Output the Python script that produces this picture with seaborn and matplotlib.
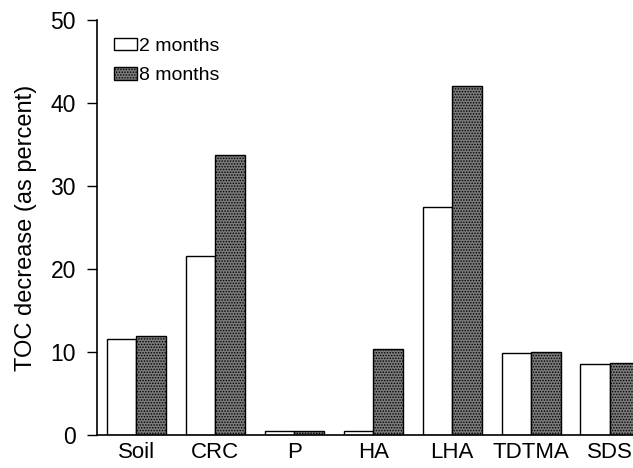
import matplotlib
matplotlib.use("Agg")
import matplotlib.pyplot as plt
import seaborn as sns
import pandas as pd

categories = ["Soil", "CRC", "P", "HA", "LHA", "TDTMA", "SDS"]
months2 = [11.6, 21.6, 0.5, 0.5, 27.5, 9.9, 8.5]
months8 = [11.9, 33.7, 0.5, 10.4, 42.1, 10.0, 8.7]
series = ["2 months", "8 months"]

df = pd.DataFrame({
    "cat": categories * 2,
    "val": months2 + months8,
    "series": [series[0]] * len(categories) + [series[1]] * len(categories),
})

sns.set_theme(style="ticks")
plt.rcParams["font.family"] = ["Liberation Sans", "DejaVu Sans"]
plt.rcParams["hatch.color"] = "#1a1a1a"
plt.rcParams["hatch.linewidth"] = 0.7
for k in ["text.color", "axes.labelcolor", "xtick.color", "ytick.color"]:
    plt.rcParams[k] = "black"

fig = plt.figure(figsize=(6.33, 4.68), dpi=100)
ax = fig.add_axes([0.153, 0.0705, 0.847, 0.8865])

sns.barplot(data=df, x="cat", y="val", hue="series", order=categories,
            hue_order=series, palette=["white", "#7a7a7a"], width=0.75,
            edgecolor="black", linewidth=1.0, ax=ax, legend=True)

for bar in ax.containers[1]:
    bar.set_hatch("......")

ax.set_ylim(0, 50)
ax.set_xlim(-0.5, 6.29)
ax.set_yticks([0, 10, 20, 30, 40, 50])
ax.set_xlabel("")
ax.set_ylabel("TOC decrease (as percent)", fontsize=17, labelpad=10)
ax.tick_params(axis="y", labelsize=16.5, length=7, width=1, direction="out", color="black", pad=8)
ax.tick_params(axis="x", labelsize=16, length=0, pad=5)
for s in ["top", "right"]:
    ax.spines[s].set_visible(False)
for s in ["left", "bottom"]:
    ax.spines[s].set_color("black")
    ax.spines[s].set_linewidth(1.2)

leg = ax.get_legend()
handles = leg.legend_handles
ax.legend(handles=handles, labels=series, loc="upper left", frameon=False,
          fontsize=14, handlelength=1.15, handleheight=0.6, handletextpad=0.1,
          labelspacing=0.65, borderaxespad=0.5, bbox_to_anchor=(0.0, 1.0))
for h in ax.get_legend().legend_handles[1:]:
    h.set_hatch("......")

fig.savefig("out.png", dpi=100)
